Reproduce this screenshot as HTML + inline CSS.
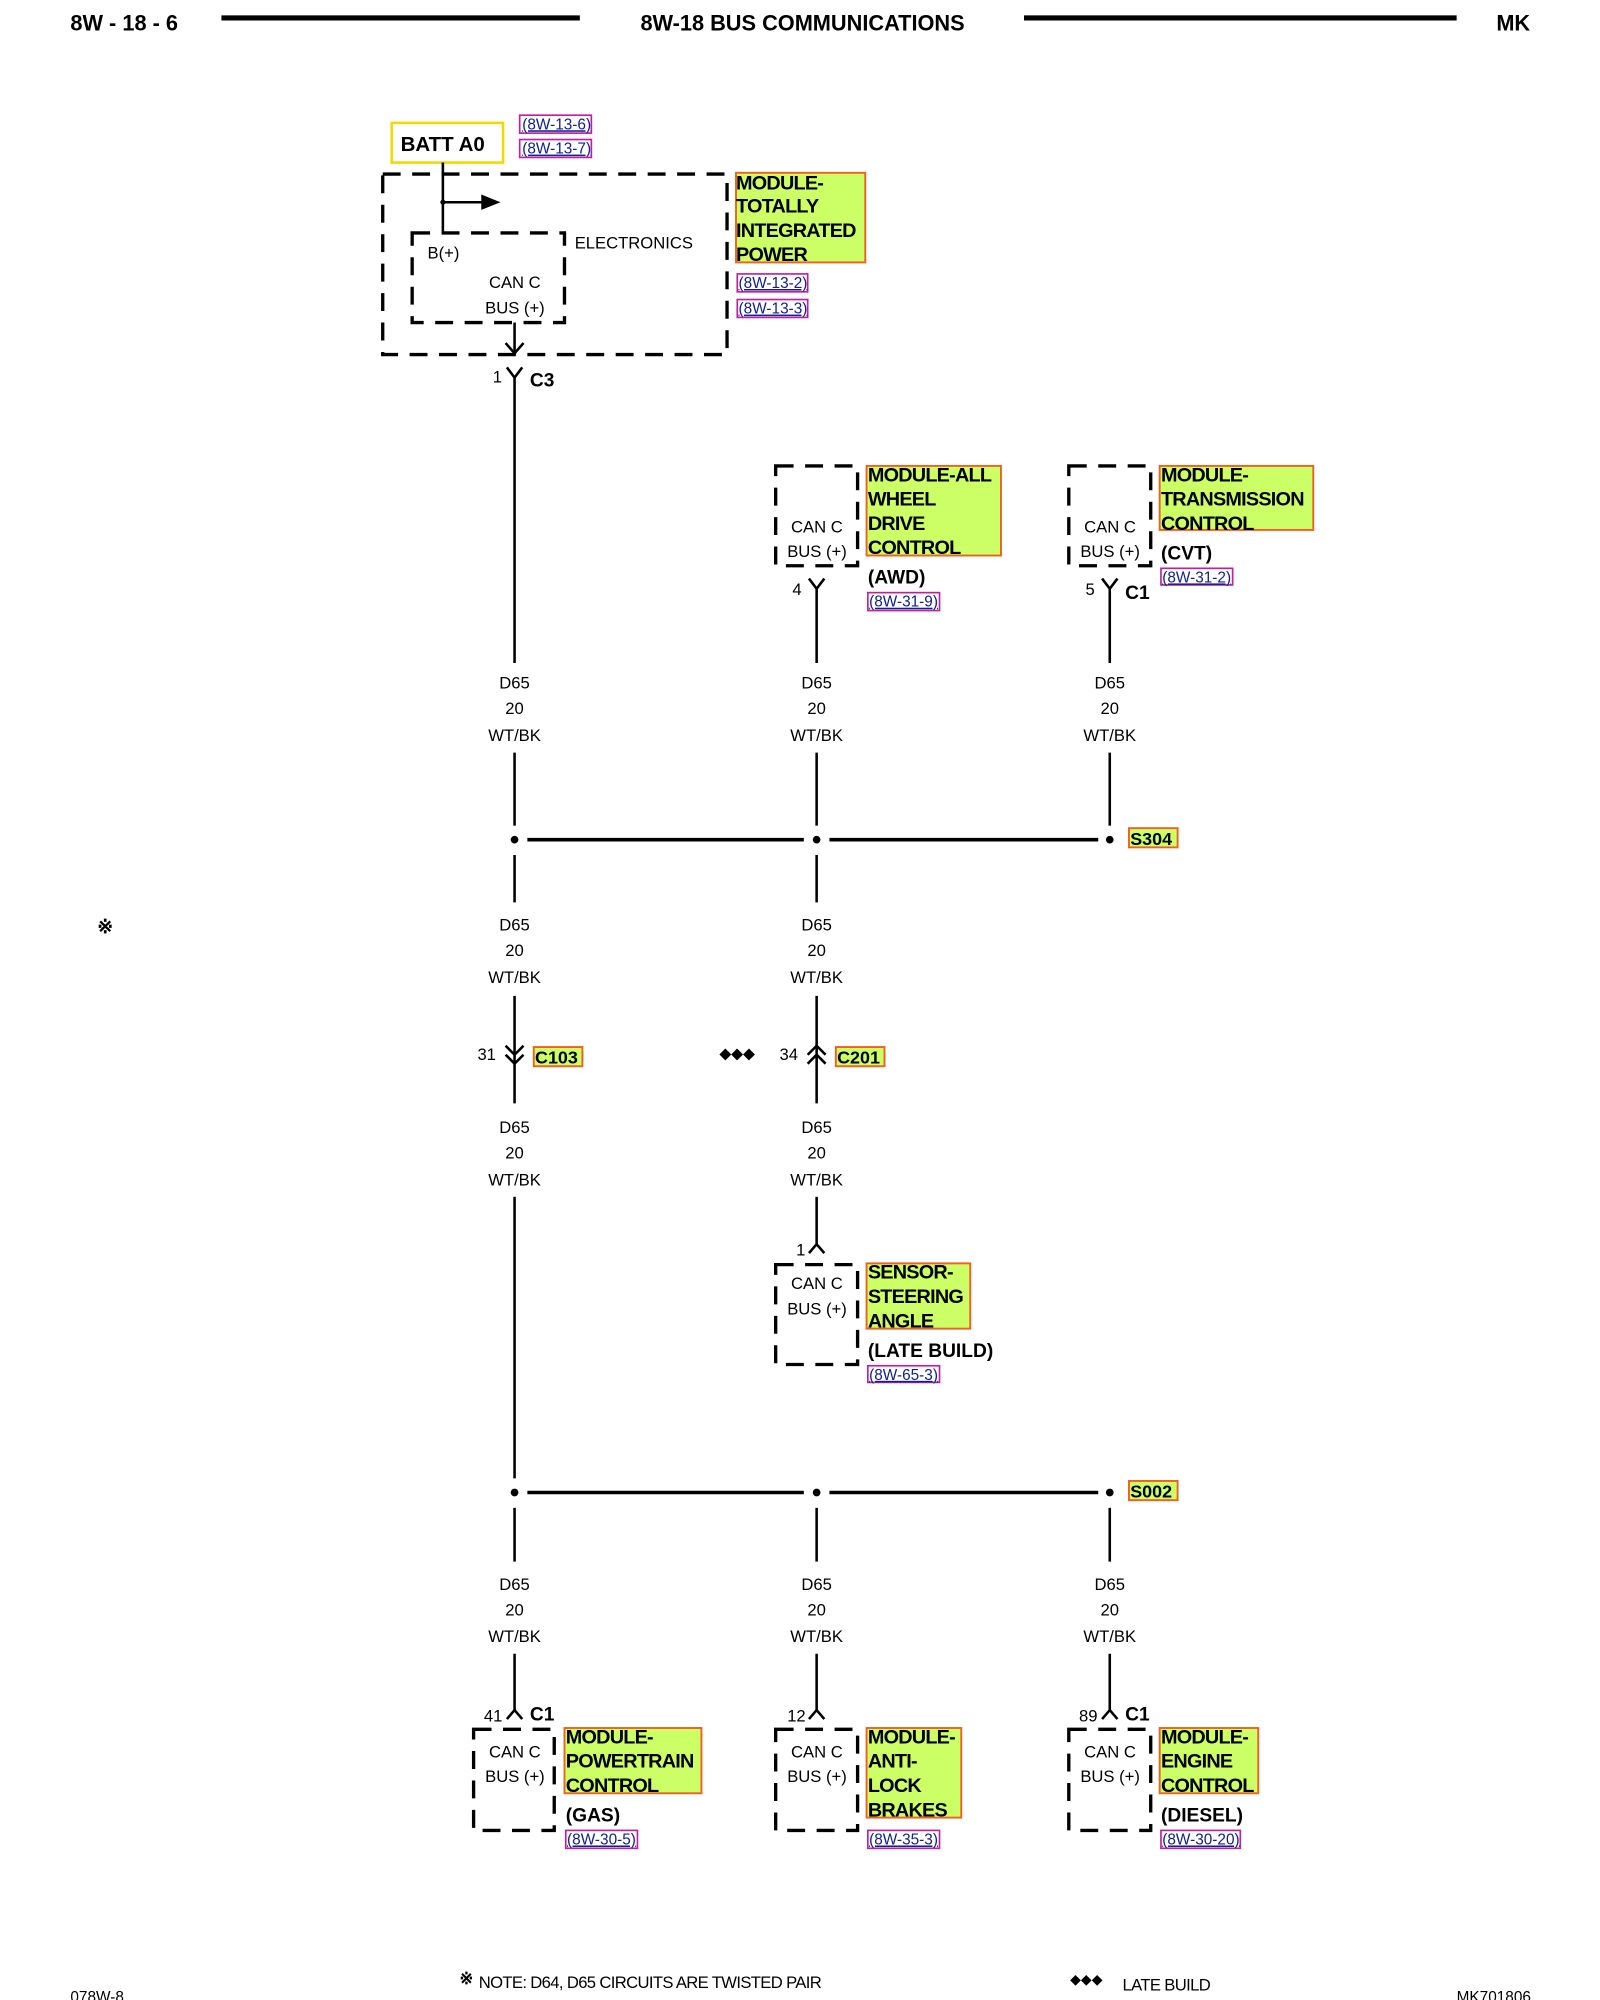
<!DOCTYPE html>
<html><head><meta charset="utf-8"><style>
html,body{margin:0;padding:0;background:#fff;}
svg{display:block}
text{font-family:"Liberation Sans",sans-serif;fill:#000}
.w{font-size:13px;text-anchor:middle}
.b{font-weight:bold}
.g{fill:#ccff66;stroke:#f06020;stroke-width:1.5}
.gt{font-size:15.5px;font-weight:bold;letter-spacing:-0.6px}
.ref{fill:none;stroke:#c020a0;stroke-width:1.3}
.rt{font-size:12px;fill:#102090;text-decoration:underline}
.d{fill:none;stroke:#000;stroke-width:2.6;stroke-dasharray:14 9}
.l{stroke:#000;stroke-width:2;fill:none}
.t{font-size:13px}
</style></head><body>
<svg width="1600" height="2000" viewBox="0 0 1250 1562.5" xmlns="http://www.w3.org/2000/svg">
<!-- header -->
<text x="55" y="24" class="b" font-size="17">8W - 18 - 6</text>
<line x1="173" y1="14" x2="453" y2="14" stroke="#000" stroke-width="4"/>
<text x="627" y="24" class="b" font-size="17" text-anchor="middle">8W-18 BUS COMMUNICATIONS</text>
<line x1="800" y1="14" x2="1138" y2="14" stroke="#000" stroke-width="4"/>
<text x="1169" y="24" class="b" font-size="17">MK</text>

<!-- TIPM -->
<rect x="306" y="96" width="87" height="31" fill="none" stroke="#f5d800" stroke-width="2"/>
<text x="313" y="118" class="b" font-size="16">BATT A0</text>
<rect x="406" y="90" width="56" height="14" class="ref"/><text x="408" y="101" class="rt">(8W-13-6)</text>
<rect x="406" y="109" width="56" height="14" class="ref"/><text x="408" y="120" class="rt">(8W-13-7)</text>
<rect x="299" y="136" width="269" height="141" class="d"/>
<rect x="322" y="182" width="119" height="70" class="d" stroke-width="2" stroke-dasharray="12 8"/>
<line x1="346" y1="127" x2="346" y2="182" class="l"/>
<line x1="346" y1="158" x2="378" y2="158" class="l"/>
<polygon points="376,152 391,158 376,164" fill="#000"/>
<circle cx="346" cy="158" r="2" fill="#000"/>
<text x="449" y="194" class="t">ELECTRONICS</text>
<text x="334" y="202" class="t">B(+)</text>
<text x="382" y="225" class="t">CAN C</text>
<text x="379" y="245" class="t">BUS (+)</text>
<line x1="402" y1="252" x2="402" y2="276" class="l"/>
<polyline points="395,268 402,276 409,268" class="l"/>
<rect x="575" y="135" width="101" height="70" class="g"/>
<text x="575" y="148" class="gt">MODULE-</text><text x="575" y="166" class="gt">TOTALLY</text><text x="575" y="185" class="gt">INTEGRATED</text><text x="575" y="204" class="gt">POWER</text>
<rect x="576" y="214" width="55" height="14" class="ref"/><text x="577" y="225" class="rt">(8W-13-2)</text>
<rect x="576" y="234" width="55" height="14" class="ref"/><text x="577" y="245" class="rt">(8W-13-3)</text>
<polyline points="396,287 402,295 408,287" class="l"/>
<text x="385" y="299" class="t" font-size="12">1</text>
<text x="414" y="302" class="b" font-size="15">C3</text>
<line x1="402" y1="295" x2="402" y2="518" class="l"/>

<!-- AWD -->
<rect x="606" y="364" width="64" height="78" class="d"/>
<text x="618" y="416" class="t">CAN C</text><text x="615" y="435" class="t">BUS (+)</text>
<rect x="677" y="364" width="105" height="70" class="g"/>
<text x="678" y="376" class="gt">MODULE-ALL</text><text x="678" y="395" class="gt">WHEEL</text><text x="678" y="414" class="gt">DRIVE</text><text x="678" y="433" class="gt">CONTROL</text>
<text x="678" y="456" class="b" font-size="15">(AWD)</text>
<rect x="678" y="463" width="56" height="14" class="ref"/><text x="679" y="474" class="rt">(8W-31-9)</text>
<polyline points="632,452 638,460 644,452" class="l"/>
<text x="619" y="465" class="t" font-size="12">4</text>
<line x1="638" y1="460" x2="638" y2="518" class="l"/>

<!-- CVT -->
<rect x="835" y="364" width="64" height="78" class="d"/>
<text x="847" y="416" class="t">CAN C</text><text x="844" y="435" class="t">BUS (+)</text>
<rect x="906" y="364" width="120" height="50" class="g"/>
<text x="907" y="376" class="gt">MODULE-</text><text x="907" y="395" class="gt">TRANSMISSION</text><text x="907" y="414" class="gt">CONTROL</text>
<text x="907" y="437" class="b" font-size="15">(CVT)</text>
<rect x="907" y="444" width="56" height="13" class="ref"/><text x="908" y="455" class="rt">(8W-31-2)</text>
<polyline points="861,452 867,460 873,452" class="l"/>
<text x="848" y="465" class="t" font-size="12">5</text>
<text x="879" y="468" class="b" font-size="15">C1</text>
<line x1="867" y1="460" x2="867" y2="518" class="l"/>

<!-- wire labels row 1 -->
<g class="w">
<text x="402" y="538">D65</text><text x="402" y="558">20</text><text x="402" y="579">WT/BK</text>
<text x="638" y="538">D65</text><text x="638" y="558">20</text><text x="638" y="579">WT/BK</text>
<text x="867" y="538">D65</text><text x="867" y="558">20</text><text x="867" y="579">WT/BK</text>
</g>
<line x1="402" y1="588" x2="402" y2="645" class="l"/>
<line x1="638" y1="588" x2="638" y2="645" class="l"/>
<line x1="867" y1="588" x2="867" y2="645" class="l"/>
<line x1="412" y1="656" x2="628" y2="656" stroke="#000" stroke-width="2.8"/>
<line x1="648" y1="656" x2="858" y2="656" stroke="#000" stroke-width="2.8"/>
<circle cx="402" cy="656" r="3" fill="#000"/><circle cx="638" cy="656" r="3" fill="#000"/><circle cx="867" cy="656" r="3" fill="#000"/>
<rect x="882" y="647" width="38" height="15" class="g"/><text x="883" y="660" class="b" font-size="14">S304</text>

<text x="76" y="729" font-size="15" class="b">※</text>

<line x1="402" y1="668" x2="402" y2="705" class="l"/>
<line x1="638" y1="668" x2="638" y2="705" class="l"/>
<g class="w">
<text x="402" y="727">D65</text><text x="402" y="747">20</text><text x="402" y="768">WT/BK</text>
<text x="638" y="727">D65</text><text x="638" y="747">20</text><text x="638" y="768">WT/BK</text>
</g>
<!-- C103 -->
<line x1="402" y1="778" x2="402" y2="862" class="l"/>
<polyline points="395,817 402,824 409,817" class="l"/>
<polyline points="395,824 402,831 409,824" class="l"/>
<text x="373" y="828" class="t" font-size="12">31</text>
<rect x="417" y="818" width="38" height="15" class="g"/><text x="418" y="831" class="b" font-size="14">C103</text>
<!-- C201 -->
<line x1="638" y1="778" x2="638" y2="862" class="l"/>
<polyline points="631,824 638,817 645,824" class="l"/>
<polyline points="631,831 638,824 645,831" class="l"/>
<text x="562" y="827" font-size="12">◆◆◆</text>
<text x="609" y="828" class="t" font-size="12">34</text>
<rect x="653" y="818" width="38" height="15" class="g"/><text x="654" y="831" class="b" font-size="14">C201</text>
<g class="w">
<text x="402" y="885">D65</text><text x="402" y="905">20</text><text x="402" y="926">WT/BK</text>
<text x="638" y="885">D65</text><text x="638" y="905">20</text><text x="638" y="926">WT/BK</text>
</g>
<line x1="402" y1="935" x2="402" y2="1155" class="l"/>
<line x1="638" y1="935" x2="638" y2="972" class="l"/>
<polyline points="632,979 638,972 644,979" class="l"/>
<text x="622" y="981" class="t" font-size="12">1</text>
<!-- Steering -->
<rect x="606" y="988" width="64" height="78" class="d"/>
<text x="618" y="1007" class="t">CAN C</text><text x="615" y="1027" class="t">BUS (+)</text>
<rect x="677" y="987" width="81" height="51" class="g"/>
<text x="678" y="999" class="gt">SENSOR-</text><text x="678" y="1018" class="gt">STEERING</text><text x="678" y="1037" class="gt">ANGLE</text>
<text x="678" y="1060" class="b" font-size="15">(LATE BUILD)</text>
<rect x="678" y="1067" width="56" height="13" class="ref"/><text x="679" y="1078" class="rt">(8W-65-3)</text>

<!-- S002 -->
<line x1="412" y1="1166" x2="628" y2="1166" stroke="#000" stroke-width="2.8"/>
<line x1="648" y1="1166" x2="858" y2="1166" stroke="#000" stroke-width="2.8"/>
<circle cx="402" cy="1166" r="3" fill="#000"/><circle cx="638" cy="1166" r="3" fill="#000"/><circle cx="867" cy="1166" r="3" fill="#000"/>
<rect x="882" y="1157" width="38" height="15" class="g"/><text x="883" y="1170" class="b" font-size="14">S002</text>
<line x1="402" y1="1178" x2="402" y2="1220" class="l"/>
<line x1="638" y1="1178" x2="638" y2="1220" class="l"/>
<line x1="867" y1="1178" x2="867" y2="1220" class="l"/>
<g class="w">
<text x="402" y="1242">D65</text><text x="402" y="1262">20</text><text x="402" y="1283">WT/BK</text>
<text x="638" y="1242">D65</text><text x="638" y="1262">20</text><text x="638" y="1283">WT/BK</text>
<text x="867" y="1242">D65</text><text x="867" y="1262">20</text><text x="867" y="1283">WT/BK</text>
</g>
<line x1="402" y1="1292" x2="402" y2="1336" class="l"/>
<line x1="638" y1="1292" x2="638" y2="1336" class="l"/>
<line x1="867" y1="1292" x2="867" y2="1336" class="l"/>
<polyline points="396,1343 402,1336 408,1343" class="l"/>
<polyline points="632,1343 638,1336 644,1343" class="l"/>
<polyline points="861,1343 867,1336 873,1343" class="l"/>
<text x="378" y="1345" class="t" font-size="12">41</text><text x="414" y="1344" class="b" font-size="15">C1</text>
<text x="615" y="1345" class="t" font-size="12">12</text>
<text x="843" y="1345" class="t" font-size="12">89</text><text x="879" y="1344" class="b" font-size="15">C1</text>

<rect x="370" y="1351" width="63" height="79" class="d"/>
<text x="382" y="1373" class="t">CAN C</text><text x="379" y="1392" class="t">BUS (+)</text>
<rect x="441" y="1350" width="107" height="51" class="g"/>
<text x="442" y="1362" class="gt">MODULE-</text><text x="442" y="1381" class="gt">POWERTRAIN</text><text x="442" y="1400" class="gt">CONTROL</text>
<text x="442" y="1423" class="b" font-size="15">(GAS)</text>
<rect x="442" y="1430" width="56" height="14" class="ref"/><text x="443" y="1441" class="rt">(8W-30-5)</text>

<rect x="606" y="1351" width="64" height="79" class="d"/>
<text x="618" y="1373" class="t">CAN C</text><text x="615" y="1392" class="t">BUS (+)</text>
<rect x="677" y="1350" width="74" height="70" class="g"/>
<text x="678" y="1362" class="gt">MODULE-</text><text x="678" y="1381" class="gt">ANTI-</text><text x="678" y="1400" class="gt">LOCK</text><text x="678" y="1419" class="gt">BRAKES</text>
<rect x="678" y="1430" width="56" height="14" class="ref"/><text x="679" y="1441" class="rt">(8W-35-3)</text>

<rect x="835" y="1351" width="64" height="79" class="d"/>
<text x="847" y="1373" class="t">CAN C</text><text x="844" y="1392" class="t">BUS (+)</text>
<rect x="906" y="1350" width="77" height="51" class="g"/>
<text x="907" y="1362" class="gt">MODULE-</text><text x="907" y="1381" class="gt">ENGINE</text><text x="907" y="1400" class="gt">CONTROL</text>
<text x="907" y="1423" class="b" font-size="15">(DIESEL)</text>
<rect x="907" y="1430" width="62" height="14" class="ref"/><text x="908" y="1441" class="rt">(8W-30-20)</text>

<!-- footer -->
<text x="55" y="1564" font-size="12">078W-8</text>
<text x="359" y="1550" font-size="13" class="b">※</text>
<text x="374" y="1553" font-size="13" letter-spacing="-0.5">NOTE:  D64, D65   CIRCUITS ARE TWISTED PAIR</text>
<text x="836" y="1550" font-size="11">◆◆◆</text>
<text x="877" y="1555" font-size="13" letter-spacing="-0.5">LATE BUILD</text>
<text x="1138" y="1564" font-size="12">MK701806</text>
</svg>
</body></html>
